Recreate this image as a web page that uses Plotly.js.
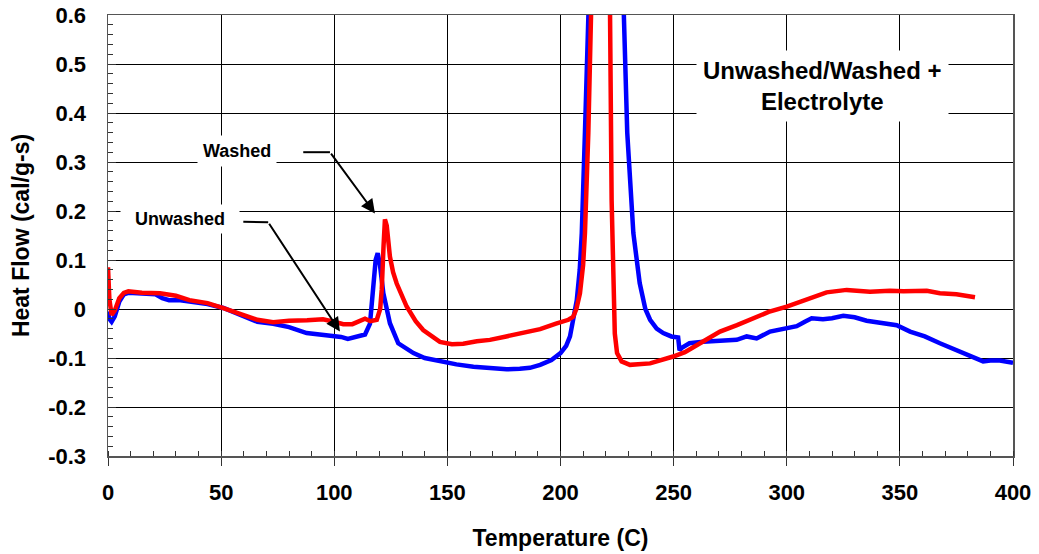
<!DOCTYPE html>
<html>
<head>
<meta charset="utf-8">
<script src="https://cdn.plot.ly/plotly-3.0.1.min.js"></script>
<style>
  html, body { margin: 0; padding: 0; background: #fff; }
  #chart { width: 1039px; height: 554px; }
</style>
</head>
<body>
<div id="chart"></div>
<script>
// Unwashed (blue) series
const unwashedTemp = [0, 0.6, 1.6, 3, 5, 7, 9, 15, 21, 24, 27, 32, 36, 44, 51, 58, 66, 73, 80, 87.8, 94, 99.5, 103, 106, 110, 113.6, 115.8, 117.3, 118.3, 119.2, 120.2, 121.7, 124.6, 128.3, 135, 140, 146.7, 154, 161.5, 170, 176.2, 182, 186.5, 191, 196, 200, 202.5, 204.2, 205.8, 207.2, 208.5, 209.4, 210.8, 211.9, 214, 220, 226, 228, 229.5, 232.2, 235, 237.5, 239.6, 242.5, 245.4, 249, 252, 252.6, 254, 257, 263, 270.5, 277.9, 282.3, 286.7, 292.6, 300, 304.4, 308, 311, 316, 320, 325, 330, 335.3, 342.7, 348.6, 354.5, 361, 367.7, 374, 379.5, 386.8, 390, 394.2, 400];
const unwashedHeat = [-0.005, -0.02, -0.026, -0.015, 0.015, 0.03, 0.033, 0.031, 0.03, 0.022, 0.018, 0.018, 0.016, 0.01, 0.002, -0.01, -0.026, -0.03, -0.037, -0.049, -0.052, -0.055, -0.057, -0.061, -0.057, -0.052, -0.03, 0.05, 0.1, 0.114, 0.09, 0.032, -0.029, -0.07, -0.09, -0.1, -0.107, -0.113, -0.118, -0.121, -0.123, -0.122, -0.12, -0.114, -0.104, -0.09, -0.075, -0.056, -0.02, 0.018, 0.08, 0.155, 0.36, 0.6, 1.3, 1.8, 1.2, 0.6, 0.36, 0.155, 0.053, 0.0, -0.022, -0.04, -0.049, -0.056, -0.058, -0.084, -0.078, -0.07, -0.067, -0.065, -0.063, -0.056, -0.06, -0.046, -0.04, -0.035, -0.026, -0.019, -0.021, -0.019, -0.014, -0.017, -0.024, -0.028, -0.033, -0.046, -0.056, -0.07, -0.082, -0.094, -0.107, -0.105, -0.105, -0.11];

// Washed (red) series
const washedTemp = [0, 0.6, 1.6, 3, 5, 7, 9, 15, 23, 30, 36, 44, 51, 58, 66, 73, 80, 88, 95, 100, 104, 108, 111, 113.6, 116, 118.8, 120.3, 121, 121.8, 122.4, 123.2, 124.6, 126, 127.6, 132, 136, 139.3, 146.7, 152, 157, 163, 168.8, 176, 185, 191, 198, 203.5, 205.6, 207, 208.6, 210, 210.8, 212.3, 213.5, 215, 217.5, 220, 221.9, 222.6, 223.3, 224, 225, 227, 230.7, 239.6, 249.8, 255, 261.7, 270.5, 278, 285, 292, 300, 307.3, 317.6, 326.5, 336.8, 345.6, 351.5, 361.9, 367.7, 375, 383.2];
const washedHeat = [0.085, 0.02, -0.012, -0.003, 0.022, 0.033, 0.036, 0.033, 0.032, 0.027, 0.018, 0.012, 0.002, -0.01, -0.022, -0.027, -0.024, -0.023, -0.021, -0.026, -0.031, -0.031, -0.026, -0.02, -0.025, -0.022, 0.0, 0.04, 0.13, 0.183, 0.17, 0.107, 0.075, 0.052, 0.005, -0.025, -0.043, -0.067, -0.072, -0.071, -0.066, -0.063, -0.056, -0.048, -0.041, -0.03, -0.022, -0.016, 0.0, 0.032, 0.09, 0.155, 0.36, 0.6, 1.2, 1.5, 1.2, 0.6, 0.222, 0.05, -0.05, -0.09, -0.107, -0.114, -0.111, -0.097, -0.088, -0.07, -0.046, -0.033, -0.019, -0.006, 0.005, 0.017, 0.034, 0.039, 0.035, 0.037, 0.036, 0.037, 0.032, 0.03, 0.024];

// Tick labels
const xTickVals = [0, 50, 100, 150, 200, 250, 300, 350, 400];
const xTickText = ['0', '50', '100', '150', '200', '250', '300', '350', '400'];
const yTickVals = [-0.3, -0.2, -0.1, 0, 0.1, 0.2, 0.3, 0.4, 0.5, 0.6];
const yTickText = ['-0.3', '-0.2', '-0.1', '0', '0.1', '0.2', '0.3', '0.4', '0.5', '0.6'];

const FONT = 'Liberation Sans, Arial, sans-serif';

const traces = [
  { x: unwashedTemp, y: unwashedHeat, mode: 'lines', name: 'Unwashed',
    line: { color: '#0000FF', width: 4.5 } },
  { x: washedTemp, y: washedHeat, mode: 'lines', name: 'Washed',
    line: { color: '#FF0000', width: 4.5 } }
];

const layout = {
  width: 1039, height: 554,
  margin: { l: 108, r: 26, t: 15, b: 98 },
  paper_bgcolor: '#fff', plot_bgcolor: '#fff',
  showlegend: false,
  font: { family: FONT, color: '#000' },
  xaxis: {
    range: [0, 400], tickvals: xTickVals, ticktext: xTickText,
    showgrid: true, gridcolor: '#000', gridwidth: 1, zeroline: false,
    showline: true, linecolor: '#555', linewidth: 1.5, mirror: true,
    ticks: 'outside', ticklen: 8, tickcolor: '#333', tickwidth: 1,
    minor: { ticks: 'inside', dtick: 10, ticklen: 5, tickcolor: '#333', showgrid: false },
    tickfont: { family: FONT, size: 22, weight: 'bold', color: '#000' },
    ticklabelstandoff: 8,
    title: { text: 'Temperature (C)', font: { family: FONT, size: 23, weight: 'bold', color: '#000' }, standoff: 26 }
  },
  yaxis: {
    range: [-0.3, 0.6], tickvals: yTickVals, ticktext: yTickText,
    showgrid: true, gridcolor: '#000', gridwidth: 1, zeroline: false,
    showline: true, linecolor: '#555', linewidth: 1.5, mirror: true,
    ticks: 'inside', ticklen: 8, tickcolor: '#333', tickwidth: 1,
    minor: { ticks: 'inside', dtick: 0.02, ticklen: 5, tickcolor: '#333', showgrid: false },
    tickfont: { family: FONT, size: 22, weight: 'bold', color: '#000' },
    ticklabelstandoff: 16,
    title: { text: 'Heat Flow (cal/g-s)', font: { family: FONT, size: 23, weight: 'bold', color: '#000' }, standoff: 12 }
  },
  shapes: [
    { type: 'line', xref: 'x', yref: 'y', x0: 86.3, y0: 0.320, x1: 98.1, y1: 0.320,
      line: { color: '#000', width: 2 } },
    { type: 'line', xref: 'x', yref: 'y', x0: 59.8, y0: 0.178, x1: 70.8, y1: 0.177,
      line: { color: '#000', width: 2 } }
  ],
  annotations: [
    { x: 315.6, y: 0.455, xref: 'x', yref: 'y', showarrow: false,
      text: 'Unwashed/Washed +<br>Electrolyte', align: 'center',
      bgcolor: '#fff', borderpad: 6,
      font: { family: FONT, size: 24, weight: 'bold', color: '#000' } },
    { x: 56.9, y: 0.323, xref: 'x', yref: 'y', showarrow: false,
      text: 'Washed', bgcolor: '#fff', borderpad: 5,
      font: { family: FONT, size: 18, weight: 'bold', color: '#000' } },
    { x: 31.8, y: 0.183, xref: 'x', yref: 'y', showarrow: false,
      text: '&nbsp;&nbsp;Unwashed&nbsp;&nbsp;', bgcolor: '#fff', borderpad: 4,
      font: { family: FONT, size: 18, weight: 'bold', color: '#000' } },
    { x: 118.0, y: 0.195, xref: 'x', yref: 'y', axref: 'x', ayref: 'y',
      ax: 98.1, ay: 0.320, showarrow: true, arrowhead: 2, arrowsize: 1.4,
      arrowwidth: 2, arrowcolor: '#000', text: '' },
    { x: 102.5, y: -0.046, xref: 'x', yref: 'y', axref: 'x', ayref: 'y',
      ax: 70.8, ay: 0.177, showarrow: true, arrowhead: 2, arrowsize: 1.4,
      arrowwidth: 2, arrowcolor: '#000', text: '' }
  ]
};

Plotly.newPlot('chart', traces, layout, { staticPlot: true, displayModeBar: false });
</script>
</body>
</html>
